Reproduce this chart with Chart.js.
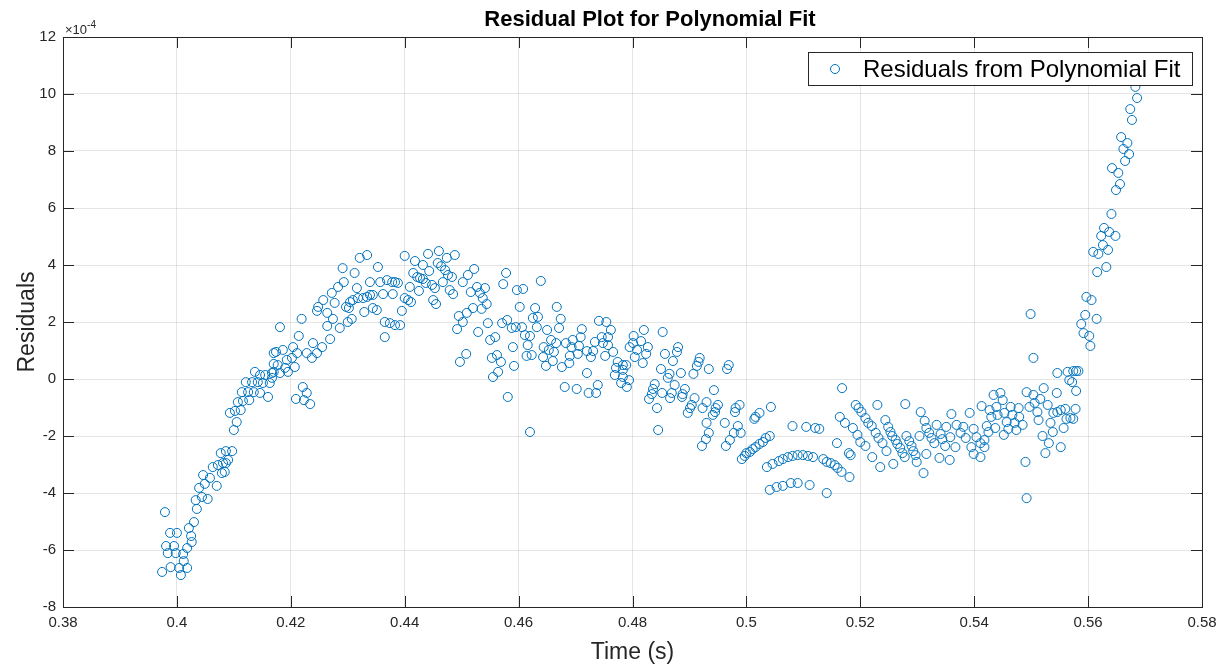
<!DOCTYPE html>
<html>
<head>
<meta charset="utf-8">
<title>Residual Plot for Polynomial Fit</title>
<script src="https://cdn.jsdelivr.net/npm/chart.js@4.4.1/dist/chart.umd.min.js"></script>
<style>
  html, body { margin: 0; padding: 0; background: #fff; }
</style>
</head>
<body>
<canvas id="chart" width="1228" height="667"></canvas>
<script>
// residuals are in units of 1e-4, time in seconds in chunks
var timeA = [0.3979,0.3988,0.4000,0.3981,0.3995,0.3984,0.3998,0.4011,0.3974,0.3989,0.4004,0.4018,0.4007,0.4012,0.4018,0.4026,0.4025,0.4021,0.4030,0.4035,0.4033,0.4044,0.4054,0.4039,0.4049,0.4046,0.4058,0.4070,0.4063,0.4072,0.4079,0.4084,0.4086,0.4077,0.4086,0.4097,0.4090,0.4081,0.4100,0.4105,0.4093,0.4102,0.4112,0.4107,0.4116,0.4127,0.4114,0.4125,0.4135,0.4146,0.4160,0.4121,0.4132,0.4142,0.4151,0.4163,0.4137,0.4146,0.4155,0.4167,0.4170,0.4170];
var resA = [-4.67,-5.40,-5.40,-5.86,-5.86,-6.11,-6.11,-6.14,-6.77,-6.60,-6.63,-6.63,-6.88,-6.39,-5.93,-5.72,-5.51,-5.23,-5.02,-4.56,-4.25,-4.14,-4.21,-3.82,-3.68,-3.37,-3.47,-3.75,-3.09,-3.02,-3.30,-3.26,-2.95,-2.60,-2.53,-2.53,-2.84,-2.95,-1.79,-1.51,-1.19,-1.12,-1.09,-0.81,-0.77,-0.74,-0.46,-0.46,-0.46,-0.49,-0.63,-0.11,-0.11,-0.11,-0.14,-0.14,0.25,0.14,0.14,0.04,0.53,0.91];

var timeB = [0.4167,0.4170,0.4181,0.4177,0.4174,0.4186,0.4193,0.4195,0.4190,0.4204,0.4202,0.4211,0.4207,0.4228,0.4237,0.4239,0.4246,0.4255,0.4269,0.4181,0.4214,0.4219,0.4248,0.4246,0.4257,0.4264,0.4264,0.4272,0.4277,0.4274,0.4286,0.4283,0.4293,0.4297,0.4302,0.4300,0.4307,0.4312,0.4291,0.4316,0.4321,0.4334,0.4304,0.4309,0.4318,0.4327,0.4334,0.4339,0.4344,0.4329,0.4344,0.4351,0.4339,0.4357,0.4353,0.4362,0.4365,0.4365,0.4209,0.4221,0.4228,0.4223,0.4234];
var resB = [0.21,0.25,0.21,0.49,0.95,1.02,0.67,0.25,0.39,1.12,0.74,0.91,0.42,0.91,0.74,1.26,0.91,1.12,1.40,1.82,1.51,2.11,2.53,2.39,2.77,2.32,1.86,3.02,2.67,2.11,1.79,3.23,3.40,2.53,2.49,2.00,2.11,3.72,3.89,3.19,4.25,4.35,2.70,2.77,2.84,2.84,2.88,2.95,2.95,2.35,2.49,2.42,3.40,3.40,3.93,2.98,2.00,1.47,-0.70,-0.28,-0.49,-0.74,-0.88];

var timeC = [0.4369,0.4378,0.4383,0.4388,0.4379,0.4374,0.4383,0.4392,0.4395,0.4400,0.4409,0.4400,0.4406,0.4411,0.4415,0.4422,0.4427,0.4432,0.4425,0.4418,0.4432,0.4441,0.4443,0.4437,0.4448,0.4453,0.4450,0.4455,0.4460,0.4458,0.4464,0.4471,0.4474,0.4488,0.4476,0.4483,0.4467,0.4479,0.4485,0.4502,0.4511,0.4522,0.4516,0.4527,0.4532,0.4541,0.4537,0.4544,0.4535,0.4520,0.4509,0.4495,0.4502,0.4492,0.4529,0.4546,0.4571,0.4580,0.4578,0.4573,0.4550,0.4559,0.4562,0.4553,0.4569,0.4564,0.4555,0.4508,0.4497,0.4581];
var resC = [3.47,3.40,3.40,3.37,2.98,1.96,1.89,1.89,2.39,4.32,3.23,2.84,2.77,2.70,3.72,3.58,3.54,3.51,3.09,4.14,4.00,4.39,3.79,3.37,3.30,3.19,2.77,2.63,4.49,4.07,3.96,3.82,4.25,4.35,3.65,3.58,3.40,3.12,2.98,3.40,3.65,3.86,3.05,3.23,3.02,3.19,2.84,2.63,2.46,2.49,2.32,2.21,2.00,1.75,1.65,1.96,1.96,2.07,3.72,3.33,1.37,1.47,0.84,0.74,0.60,0.25,0.07,0.88,0.60,-0.63];

var timeD = [0.4597,0.4608,0.4639,0.4602,0.4629,0.4667,0.4588,0.4595,0.4606,0.4625,0.4634,0.4632,0.4674,0.4671,0.4650,0.4611,0.4620,0.4616,0.4590,0.4614,0.4623,0.4592,0.4643,0.4648,0.4660,0.4657,0.4666,0.4644,0.4653,0.4662,0.4676,0.4689,0.4683,0.4695,0.4711,0.4709,0.4693,0.4706,0.4690,0.4704,0.4720,0.4731,0.4727,0.4734,0.4741,0.4754,0.4762,0.4746,0.4757,0.4748,0.4757,0.4766,0.4752,0.4720,0.4681,0.4702,0.4723,0.4736,0.4739,0.4774,0.4771,0.4783,0.4789,0.4769,0.4783,0.4780,0.4790,0.4795,0.4620];
var resD = [3.12,3.16,3.44,2.53,2.49,2.53,1.79,1.82,1.82,2.14,2.18,1.82,2.11,1.79,1.72,1.54,1.51,1.19,1.12,0.81,0.84,0.46,0.77,0.46,0.63,1.37,1.26,1.12,1.02,0.95,0.42,0.56,1.26,1.37,1.75,1.47,1.12,1.16,0.81,0.88,0.98,0.98,0.77,1.30,2.04,2.00,1.72,1.47,1.47,1.26,1.19,0.95,0.81,0.21,-0.28,-0.35,-0.49,-0.49,-0.21,0.60,0.39,0.49,0.49,0.14,0.07,-0.14,-0.28,1.12,-1.86];

var timeE = [0.4820,0.4853,0.4802,0.4815,0.4801,0.4808,0.4827,0.4824,0.4804,0.4818,0.4783,0.4794,0.4857,0.4871,0.4880,0.4878,0.4850,0.4865,0.4862,0.4885,0.4907,0.4913,0.4916,0.4918,0.4934,0.4966,0.4969,0.4839,0.4836,0.4834,0.4829,0.4852,0.4869,0.4866,0.4874,0.4892,0.4888,0.4887,0.4909,0.4923,0.4930,0.4943,0.4843,0.4904,0.4901,0.4897,0.4950,0.4946,0.4945,0.4941,0.4930,0.4962,0.4988,0.4981,0.4980,0.4845,0.4922,0.4929,0.4934,0.4964,0.4971,0.4978,0.4985];
var resE = [1.72,1.65,1.51,1.33,1.26,1.02,1.12,0.88,0.77,0.56,0.32,-0.04,0.88,0.63,1.12,0.95,0.35,0.18,0.04,0.21,0.18,0.46,0.60,0.74,0.35,0.35,0.49,-0.18,-0.35,-0.53,-0.70,-0.49,-0.49,-0.67,-0.21,-0.35,-0.53,-0.63,-0.67,-1.02,-0.81,-0.39,-1.02,-0.91,-1.02,-1.19,-0.91,-1.02,-1.16,-1.26,-1.54,-1.54,-0.91,-1.02,-1.16,-1.79,-2.35,-2.11,-1.89,-2.35,-2.14,-1.89,-1.65];

var timeF = [0.4990,0.5043,0.5023,0.5016,0.5014,0.5041,0.5034,0.5029,0.5023,0.5016,0.5011,0.5006,0.5000,0.4997,0.4992,0.5081,0.5105,0.5121,0.5128,0.5168,0.5036,0.5046,0.5057,0.5064,0.5073,0.5081,0.5090,0.5099,0.5108,0.5117,0.5135,0.5141,0.5148,0.5155,0.5160,0.5167,0.5181,0.5041,0.5053,0.5064,0.5078,0.5090,0.5111,0.5141,0.5159,0.5164,0.5173,0.5180,0.5183,0.5187,0.5192,0.5197,0.5202,0.5195,0.5200];
var resF = [-1.89,-0.98,-1.19,-1.33,-1.40,-2.00,-2.07,-2.21,-2.28,-2.39,-2.46,-2.56,-2.60,-2.70,-2.81,-1.65,-1.68,-1.72,-1.75,-0.32,-3.09,-2.98,-2.88,-2.81,-2.74,-2.70,-2.67,-2.67,-2.70,-2.74,-2.81,-2.91,-2.95,-3.02,-3.12,-3.26,-3.44,-3.89,-3.79,-3.75,-3.65,-3.65,-3.72,-4.00,-2.25,-1.33,-1.54,-2.60,-2.67,-1.72,-0.91,-1.02,-1.16,-1.96,-2.21];

var timeG = [0.5209,0.5214,0.5220,0.5227,0.5232,0.5239,0.5246,0.5230,0.5209,0.5221,0.5235,0.5244,0.5249,0.5253,0.5256,0.5262,0.5265,0.5270,0.5274,0.5278,0.5258,0.5279,0.5281,0.5286,0.5290,0.5293,0.5297,0.5299,0.5306,0.5313,0.5304,0.5316,0.5321,0.5325,0.5330,0.5316,0.5311,0.5334,0.5341,0.5344,0.5349,0.5339,0.5351,0.5358,0.5367,0.5357,0.5360,0.5369,0.5376,0.5381,0.5385,0.5392,0.5399,0.5395,0.5404,0.5399,0.5413,0.5411,0.5411];
var resG = [-1.37,-1.54,-1.65,-1.89,-2.07,-2.25,-2.53,-0.91,-2.35,-2.74,-3.09,-1.44,-1.68,-1.86,-2.00,-2.14,-2.28,-2.42,-2.60,-2.74,-2.98,-0.88,-2.00,-2.18,-2.35,-2.53,-2.67,-2.91,-1.16,-1.47,-2.00,-1.72,-1.89,-2.07,-2.25,-2.63,-3.30,-1.61,-1.93,-2.11,-2.35,-2.77,-1.68,-2.04,-2.39,-2.84,-1.23,-1.61,-1.89,-1.68,-2.07,-1.19,-1.75,-2.39,-2.04,-2.63,-0.95,-2.25,-2.74];

var timeH = [0.5499,0.5504,0.5490,0.5492,0.5418,0.5418,0.5422,0.5425,0.5427,0.5434,0.5430,0.5437,0.5439,0.5441,0.5446,0.5450,0.5453,0.5452,0.5457,0.5460,0.5464,0.5467,0.5471,0.5474,0.5478,0.5479,0.5485,0.5492,0.5497,0.5504,0.5506,0.5511,0.5513,0.5516,0.5522,0.5529,0.5531,0.5525,0.5520,0.5534,0.5538,0.5539,0.5546,0.5552,0.5557,0.5552,0.5560,0.5562,0.5569,0.5578,0.5545,0.5546,0.5564,0.5567,0.5574,0.5579,0.5583,0.5579,0.5595,0.5588,0.5592,0.5602,0.5604,0.5615,0.5606];
var resH = [2.28,0.74,-2.91,-4.18,-2.14,-2.39,-1.65,-1.86,-1.09,-0.56,-1.33,-1.72,-0.98,-1.26,-0.49,-0.74,-1.19,-1.96,-1.51,-1.75,-0.98,-1.26,-1.54,-1.79,-1.02,-1.33,-1.61,-0.46,-0.98,-0.56,-0.84,-1.16,-1.44,-0.70,-0.32,-0.91,-2.25,-2.60,-2.00,-1.54,-1.86,-1.19,-1.16,-1.09,-1.72,-2.39,-1.05,-1.40,-1.37,-1.05,-0.49,0.21,0.25,-0.04,0.28,0.28,0.28,-0.42,2.25,1.93,1.61,1.51,1.16,2.11,2.77];

var timeI = [0.5683,0.5686,0.5674,0.5677,0.5658,0.5669,0.5662,0.5672,0.5665,0.5642,0.5653,0.5656,0.5649,0.5641,0.5628,0.5637,0.5648,0.5623,0.5626,0.5635,0.5609,0.5618,0.5632,0.5616,0.5597,0.5572,0.5574];
var resI = [10.25,9.86,9.47,9.09,8.49,8.28,8.07,7.89,7.65,7.40,7.23,6.84,6.63,5.79,5.30,5.16,5.02,5.02,4.70,4.53,4.46,4.39,3.93,3.75,2.88,-0.11,-1.40];

var xTicks = [0.38, 0.40, 0.42, 0.44, 0.46, 0.48, 0.50, 0.52, 0.54, 0.56, 0.58];
var yTicks = [-8, -6, -4, -2, 0, 2, 4, 6, 8, 10, 12];

var seriesName = 'Residuals from Polynomial Fit';
var chartTitle = 'Residual Plot for Polynomial Fit';

var FONT = '"Liberation Sans", Arial, Helvetica, sans-serif';
var INK = '#262626';
var BLUE = '#0072BD';

var points = [];
[[timeA, resA], [timeB, resB], [timeC, resC], [timeD, resD], [timeE, resE],
 [timeF, resF], [timeG, resG], [timeH, resH], [timeI, resI]].forEach(function (g) {
    g[0].forEach(function (t, i) {
        points.push({x: t, y: g[1][i]});
    });
});

// matlab style box: frame, inward ticks, exponent note, title and legend
var matlabBox = {
    id: 'matlabBox',
    afterDraw: function (chart) {
        var ctx = chart.ctx;
        var a = chart.chartArea;
        var xs = chart.scales.x, ys = chart.scales.y;
        var tl = 11;
        ctx.save();
        ctx.strokeStyle = INK;
        ctx.lineWidth = 1;
        ctx.beginPath();
        xTicks.forEach(function (v) {
            var px = Math.round(xs.getPixelForValue(v)) + 0.5;
            ctx.moveTo(px, a.bottom); ctx.lineTo(px, a.bottom - tl);
            ctx.moveTo(px, a.top); ctx.lineTo(px, a.top + tl);
        });
        yTicks.forEach(function (v) {
            var py = Math.round(ys.getPixelForValue(v)) + 0.5;
            ctx.moveTo(a.left, py); ctx.lineTo(a.left + tl, py);
            ctx.moveTo(a.right, py); ctx.lineTo(a.right - tl, py);
        });
        ctx.stroke();
        ctx.strokeRect(Math.round(a.left) + 0.5, Math.round(a.top) + 0.5,
            Math.round(a.right - a.left), Math.round(a.bottom - a.top));

        // x10^-4
        ctx.fillStyle = INK;
        ctx.textBaseline = 'alphabetic';
        ctx.textAlign = 'left';
        ctx.font = '13px ' + FONT;
        ctx.fillText('\u00d710', a.left + 2, a.top - 3);
        var w = ctx.measureText('\u00d710').width;
        ctx.font = '10px ' + FONT;
        ctx.fillText('-4', a.left + 2 + w, a.top - 9);

        // title
        ctx.font = 'bold 22px ' + FONT;
        ctx.textAlign = 'center';
        ctx.textBaseline = 'middle';
        ctx.fillStyle = '#000';
        ctx.fillText(chartTitle, 650, 20);

        // legend
        var lx = 808, ly = 52, lw = 384, lh = 33;
        ctx.fillStyle = '#fff';
        ctx.fillRect(lx, ly, lw, lh);
        ctx.strokeStyle = INK;
        ctx.strokeRect(lx + 0.5, ly + 0.5, lw, lh);
        ctx.strokeStyle = BLUE;
        ctx.beginPath();
        ctx.arc(lx + 27, ly + 17, 4.5, 0, Math.PI * 2);
        ctx.stroke();
        ctx.fillStyle = '#000';
        ctx.textAlign = 'left';
        ctx.font = '24px ' + FONT;
        ctx.fillText(seriesName, lx + 55, ly + 18);
        ctx.restore();
    }
};

var config = {
    type: 'scatter',
    data: {
        datasets: [{
            label: seriesName,
            data: points,
            pointStyle: 'circle',
            pointRadius: 4.5,
            borderWidth: 1,
            borderColor: BLUE,
            backgroundColor: 'rgba(0,0,0,0)'
        }]
    },
    options: {
        responsive: false,
        animation: false,
        layout: {padding: {top: 37, right: 26, left: 0, bottom: 0}},
        plugins: {
            legend: {display: false},
            title: {display: false},
            tooltip: {enabled: false}
        },
        scales: {
            x: {
                type: 'linear',
                min: 0.38,
                max: 0.58,
                afterBuildTicks: function (s) { s.ticks = xTicks.map(function (v) { return {value: v}; }); },
                afterFit: function (s) { s.height = 60; },
                grid: {color: 'rgba(38,38,38,0.12)', drawTicks: false},
                border: {display: false},
                ticks: {
                    padding: 7, color: INK, maxRotation: 0, autoSkip: false,
                    font: {family: FONT, size: 15},
                    callback: function (v) { return String(+v.toFixed(2)); }
                },
                title: {
                    display: true, text: 'Time (s)', color: INK,
                    font: {family: FONT, size: 23}, padding: {top: 0, bottom: 1}
                }
            },
            y: {
                type: 'linear',
                min: -8,
                max: 12,
                afterBuildTicks: function (s) { s.ticks = yTicks.map(function (v) { return {value: v}; }); },
                afterFit: function (s) { s.width = 63; },
                grid: {color: 'rgba(38,38,38,0.12)', drawTicks: false},
                border: {display: false},
                ticks: {
                    padding: 7, color: INK, autoSkip: false,
                    font: {family: FONT, size: 15},
                    callback: function (v) { return String(v); }
                },
                title: {
                    display: true, text: 'Residuals', color: INK,
                    font: {family: FONT, size: 23}, padding: {top: 14, bottom: 0}
                }
            }
        }
    },
    plugins: [matlabBox]
};

var ctx = document.getElementById('chart').getContext('2d');
var chart = new Chart(ctx, config);
</script>
</body>
</html>
